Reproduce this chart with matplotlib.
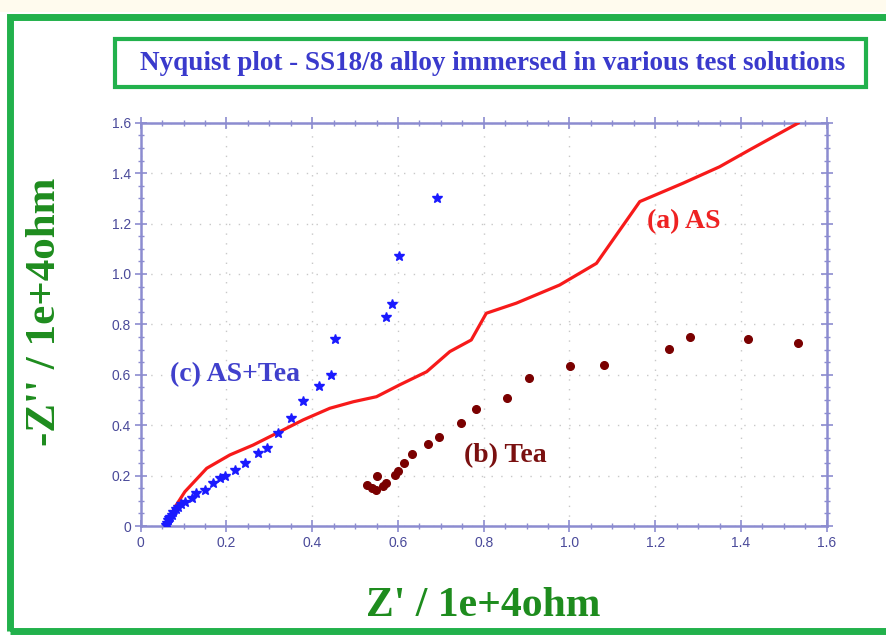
import numpy as np
import matplotlib
matplotlib.use("Agg")
import matplotlib.pyplot as plt
from matplotlib.patches import Rectangle
from matplotlib.ticker import MultipleLocator, FuncFormatter

# (a) AS - red line
as_x = [0.066, 0.080, 0.103, 0.154, 0.208, 0.262, 0.317, 0.379, 0.441, 0.496, 0.550,
        0.604, 0.667, 0.721, 0.771, 0.806, 0.876, 0.977, 1.063, 1.164, 1.265, 1.350,
        1.420, 1.533]
as_y = [0.030, 0.075, 0.136, 0.229, 0.282, 0.321, 0.368, 0.421, 0.467, 0.493, 0.513,
        0.560, 0.612, 0.692, 0.738, 0.844, 0.884, 0.956, 1.042, 1.287, 1.360, 1.425,
        1.492, 1.598]

# (b) Tea - brown dots
tea_x = [0.527, 0.540, 0.548, 0.550, 0.566, 0.572, 0.593, 0.600, 0.614, 0.632, 0.670,
         0.696, 0.748, 0.783, 0.855, 0.905, 1.001, 1.080, 1.232, 1.280, 1.417, 1.534]
tea_y = [0.163, 0.150, 0.143, 0.198, 0.160, 0.172, 0.202, 0.219, 0.249, 0.286, 0.324,
         0.354, 0.410, 0.463, 0.509, 0.586, 0.635, 0.638, 0.701, 0.751, 0.742, 0.725]

# (c) AS+Tea - blue stars
ast_x = [0.058, 0.061, 0.064, 0.066, 0.068, 0.072, 0.076, 0.082, 0.088, 0.095, 0.103,
         0.119, 0.130, 0.150, 0.169, 0.185, 0.196, 0.220, 0.243, 0.274, 0.294, 0.321,
         0.350, 0.379, 0.416, 0.445, 0.453, 0.573, 0.587, 0.602, 0.692]
ast_y = [0.005, 0.013, 0.024, 0.030, 0.037, 0.045, 0.057, 0.067, 0.077, 0.086, 0.096,
         0.110, 0.130, 0.143, 0.169, 0.189, 0.198, 0.222, 0.249, 0.288, 0.311, 0.368,
         0.427, 0.497, 0.557, 0.598, 0.743, 0.828, 0.881, 1.071, 1.303]

green = "#22b14c"
axcol = "#8c8cd0"
serif = ["Liberation Serif", "DejaVu Serif"]

fig = plt.figure(figsize=(8.87, 6.38), dpi=100)
fig.patch.set_facecolor("white")

# cream strip on top and the outer green frame (right side runs off the image)
fig.patches.append(Rectangle((0, 1 - 12/638), 1, 12/638, transform=fig.transFigure,
                             facecolor="#fffbee", edgecolor="none", zorder=0))
fig.patches.append(Rectangle((10/887, 7/638), 1.05, (631 - 17)/638, transform=fig.transFigure,
                             facecolor="none", edgecolor=green, linewidth=5, zorder=5))
# title box
fig.patches.append(Rectangle((115/887, 1 - 87/638), (866 - 115)/887, 48/638,
                             transform=fig.transFigure, facecolor="white",
                             edgecolor=green, linewidth=3, zorder=5))
fig.text(493/887, 1 - 63/638, "Nyquist plot - SS18/8 alloy immersed in various test solutions",
         ha="center", va="center", color="#3a3acc", fontsize=19.5, fontweight="bold",
         family=serif, zorder=6)

ax = fig.add_axes([140.7/887, 1 - 526/638, (826.7 - 140.7)/887, (526 - 122.7)/638])
ax.set_xlim(0, 1.6)
ax.set_ylim(0, 1.6)

ax.plot(as_x, as_y, color="#f71a1a", linewidth=2.3, zorder=3)
ax.plot(tea_x, tea_y, "o", color="#7a0000", markersize=5.5, zorder=3, linestyle="none")
ax.plot(ast_x, ast_y, "*", color="#1a1aff", markersize=7, zorder=4, linestyle="none")

ax.text(1.180, 1.206, "(a) AS", color="#ee2222", fontsize=20, fontweight="bold",
        family=serif, va="center")
ax.text(0.755, 0.28, "(b) Tea", color="#7a1010", fontsize=20, fontweight="bold",
        family=serif, va="center")
ax.text(0.068, 0.60, "(c) AS+Tea", color="#4040cc", fontsize=20, fontweight="bold",
        family=serif, va="center")

for s in ax.spines.values():
    s.set_color(axcol)
    s.set_linewidth(1.8)
ax.xaxis.set_major_locator(MultipleLocator(0.2))
ax.yaxis.set_major_locator(MultipleLocator(0.2))
ax.xaxis.set_minor_locator(MultipleLocator(0.05))
ax.yaxis.set_minor_locator(MultipleLocator(0.05))
fmt = FuncFormatter(lambda v, p: "0" if abs(v) < 1e-9 else "%.1f" % v)
ax.xaxis.set_major_formatter(fmt)
ax.yaxis.set_major_formatter(fmt)
ax.tick_params(which="both", direction="inout", top=True, right=True, color=axcol)
ax.tick_params(which="major", length=8, width=1.2, labelsize=10, labelcolor="#4a4a9a", pad=3)
ax.tick_params(which="minor", length=4, width=1.0)
for lab in ax.get_xticklabels() + ax.get_yticklabels():
    lab.set_family(["Liberation Sans Narrow", "Liberation Sans", "DejaVu Sans"])
ax.grid(True, which="major", color="#c8c8c8", linestyle=(0, (1, 6)), linewidth=1.0)
ax.set_axisbelow(True)

fig.text(483/887, 1 - 606/638, "Z' / 1e+4ohm", ha="center", va="center", color="#1e8c1e",
         fontsize=30, fontweight="bold", family=serif)
fig.text(45/887, 1 - 312/638, "-Z'' / 1e+4ohm", ha="center", va="center", color="#1e8c1e",
         fontsize=31, fontweight="bold", family=serif, rotation=90)

fig.savefig("out.png", dpi=100)
